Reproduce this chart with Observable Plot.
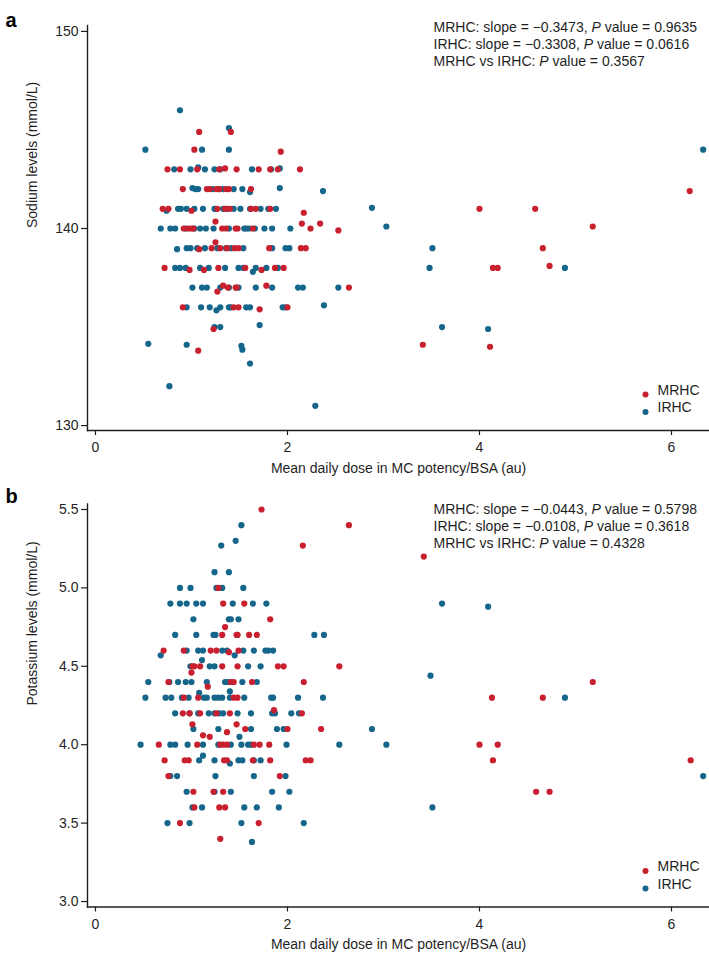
<!DOCTYPE html>
<html>
<head>
<meta charset="utf-8">
<script src="https://cdn.jsdelivr.net/npm/d3@7"></script>
<script src="https://cdn.jsdelivr.net/npm/@observablehq/plot@0.6"></script>
<style>
  body { margin: 0; background: #fff; }
  #chart { width: 709px; }
  #chart svg { display: block; }
</style>
</head>
<body>
<div id="chart"></div>
<script>
// Groups and colours
const groups = ["MRHC", "IRHC"];
const groupColors = ["#c8202e", "#15668a"];

// Shared x axis
const doseTicks = [0, 2, 4, 6];
const doseTitle = "Mean daily dose in MC potency/BSA (au)";

// Panel a: sodium, [dose, level]
const sodiumMRHC = [
  [1.08,144.9],[1.41,144.9],
  [1.03,144],[1.93,143.9],
  [0.75,143],[0.88,143],[1.06,143],[1.29,143],[1.35,143.05],[1.47,143],[1.70,143],[1.82,143],[1.90,143],[2.13,143],
  [0.91,142],[1.16,142],[1.19,142],[1.26,142],[1.29,142],[1.36,142],[1.39,142],[1.62,142],[6.19,141.9],
  [0.70,141],[0.76,141],[1.00,140.9],[1.27,141],[1.35,141],[1.40,141],[1.62,141],[1.67,141],[1.82,141],[2.17,140.8],[4.00,141],[4.58,141],
  [0.92,140],[0.97,140],[1.00,140],[1.02,140],[1.25,140.35],[1.32,140],[1.36,140],[1.46,140],[1.48,140],[1.64,140],[2.15,140.25],[2.24,140],[2.34,140.25],[2.53,139.9],[5.18,140.1],
  [1.08,138.95],[1.21,139],[1.25,139.3],[1.30,139],[1.37,139],[1.45,139],[1.49,139],[1.81,139],[2.14,139],[2.19,139],[4.66,139],
  [0.72,138],[0.98,137.9],[1.13,137.9],[1.28,138],[1.56,138],[1.73,137.9],[1.87,138],[1.96,138],[4.14,138],[4.19,138],[4.73,138.1],
  [1.27,136.8],[1.33,137.1],[1.38,137],[1.46,137],[1.47,137],[1.78,137.1],[2.64,137],
  [0.91,136],[1.44,136],[1.49,136],[1.71,135.9],[2.00,136],
  [1.23,134.9],
  [1.07,133.8],[3.41,134.1],[4.11,134]
];
const sodiumIRHC = [
  [0.88,146],
  [1.39,145.1],
  [0.52,144],[1.11,144],[1.39,144],[6.33,144],
  [0.82,143],[0.99,143],[1.07,143.1],[1.14,143],[1.24,143],[1.30,143],[1.63,143],[1.83,143],[1.92,143.05],
  [1.01,142.05],[1.04,142],[1.07,142],[1.22,142],[1.29,142],[1.33,142],[1.44,142],[1.53,142],[1.61,141.85],[1.92,142.05],[2.37,141.9],
  [0.74,140.9],[0.86,141],[0.89,141],[0.95,141],[1.03,141],[1.12,141],[1.24,141],[1.25,141],[1.33,141],[1.37,141],[1.44,141],[1.51,141],[1.61,141],[1.72,141],[1.80,141],[1.88,141],[2.88,141.05],
  [0.68,140],[0.78,140],[0.83,140],[0.94,140],[1.03,140],[1.09,140],[1.15,140],[1.23,140],[1.39,140],[1.55,140],[1.57,140],[1.60,140],[1.66,140],[1.76,140],[1.84,140],[2.03,140],[3.03,140.1],
  [0.85,138.95],[0.95,139],[0.99,139],[1.06,139],[1.14,139],[1.27,139],[1.36,139],[1.41,139],[1.54,139],[1.84,139],[1.98,139],[2.02,139],[3.51,139],
  [0.83,138],[0.88,138],[0.94,138],[1.09,138],[1.18,138],[1.35,138],[1.49,138],[1.54,138],[1.64,137.8],[1.67,138],[1.78,138],[1.90,138],[3.48,138],[4.89,138],
  [1.01,137],[1.11,137],[1.16,137],[1.30,137],[1.39,137],[1.49,137],[1.67,137],[1.84,137],[2.11,137],[2.16,137],[2.53,137],
  [0.95,136],[1.10,136],[1.19,136],[1.26,135.85],[1.30,136],[1.39,136],[1.41,136],[1.57,136],[1.61,136],[1.95,136],[1.98,136],[2.38,136.1],
  [1.24,135],[1.30,135],[1.71,135.1],[3.61,135],[4.09,134.9],
  [0.55,134.15],[0.95,134.1],[1.52,134.05],[1.53,133.85],
  [1.61,133.15],
  [0.77,132],
  [2.29,131]
];
const sodiumTicks = [130, 140, 150];
const sodiumTitle = "Sodium levels (mmol/L)";
const sodiumNotes = [
  "MRHC: slope = \u22120.3473, P value = 0.9635",
  "IRHC: slope = \u22120.3308, P value = 0.0616",
  "MRHC vs IRHC: P value = 0.3567"
];

// Panel b: potassium, [dose, level]
const potassiumMRHC = [
  [1.73,5.5],[2.64,5.4],[2.16,5.27],[3.42,5.2],
  [1.28,5.0],
  [1.33,4.9],[1.55,4.9],
  [1.82,4.8],[1.35,4.75],
  [1.32,4.7],[1.47,4.7],[1.48,4.7],[1.60,4.7],[1.68,4.7],
  [0.71,4.6],[0.92,4.6],[1.20,4.6],[1.26,4.6],[1.39,4.59],[1.49,4.6],
  [1.01,4.5],[1.03,4.5],[1.09,4.5],[1.32,4.5],[1.48,4.5],[1.90,4.5],[1.96,4.5],[2.54,4.5],
  [1.00,4.46],
  [0.76,4.4],[1.41,4.4],[1.44,4.4],[1.63,4.4],[2.17,4.4],[5.18,4.4],
  [1.17,4.37],
  [0.92,4.3],[1.07,4.3],[1.44,4.3],[1.48,4.3],[4.13,4.3],[4.66,4.3],
  [0.91,4.2],[0.98,4.2],[1.09,4.2],[1.26,4.2],[1.40,4.2],[1.86,4.22],[2.15,4.2],
  [1.01,4.13],[1.47,4.13],
  [1.56,4.1],[2.00,4.1],[2.35,4.1],
  [1.37,4.08],[1.12,4.06],[1.19,4.05],
  [0.66,4.0],[1.06,4.0],[1.30,4.0],[1.33,4.0],[1.37,4.0],[1.65,4.0],[1.71,4.0],[1.81,4.0],[4.00,4.0],[4.19,4.0],
  [0.72,3.9],[0.93,3.9],[0.97,3.9],[1.34,3.9],[1.37,3.9],[1.64,3.9],[1.82,3.9],[2.19,3.9],[2.24,3.9],[4.14,3.9],[6.20,3.9],
  [0.76,3.8],[1.92,3.8],
  [1.02,3.7],[1.23,3.7],[1.33,3.7],[4.59,3.7],[4.73,3.7],
  [1.03,3.6],[1.29,3.6],[1.35,3.6],
  [0.88,3.5],[1.70,3.5],
  [1.30,3.4]
];
const potassiumIRHC = [
  [1.52,5.4],[1.46,5.3],[1.31,5.27],
  [1.24,5.1],[1.39,5.1],
  [0.88,5.0],[0.99,5.0],[1.26,5.0],[1.32,5.0],[1.54,5.0],
  [0.78,4.9],[0.88,4.9],[0.95,4.9],[1.05,4.9],[1.12,4.9],[1.43,4.9],[1.64,4.9],[1.78,4.9],[3.61,4.9],
  [4.09,4.88],
  [1.02,4.8],[1.39,4.8],[1.41,4.8],[1.49,4.8],
  [0.83,4.7],[1.05,4.7],[1.23,4.7],[1.25,4.7],[2.28,4.7],[2.38,4.7],
  [0.95,4.6],[1.07,4.6],[1.12,4.6],[1.32,4.6],[1.37,4.6],[1.54,4.6],[1.65,4.6],[1.77,4.6],[1.80,4.6],[1.85,4.6],
  [0.68,4.57],[1.45,4.57],[1.11,4.54],
  [0.99,4.5],[1.19,4.5],[1.24,4.5],[1.59,4.5],[1.72,4.5],
  [3.49,4.44],
  [0.55,4.4],[0.77,4.4],[0.86,4.4],[0.94,4.4],[1.00,4.4],[1.16,4.4],[1.35,4.4],[1.38,4.4],[1.53,4.4],[1.68,4.4],
  [1.40,4.34],[1.08,4.33],
  [0.52,4.3],[0.73,4.3],[0.79,4.3],[0.90,4.3],[0.97,4.3],[1.13,4.3],[1.16,4.3],[1.24,4.3],[1.28,4.3],[1.32,4.3],[1.40,4.3],[1.55,4.3],[1.83,4.3],[1.85,4.3],[2.11,4.3],[2.37,4.3],[4.89,4.3],
  [0.83,4.2],[0.98,4.2],[1.07,4.2],[1.18,4.2],[1.24,4.2],[1.29,4.2],[1.33,4.2],[1.48,4.2],[1.62,4.2],[1.84,4.2],[1.87,4.2],[2.04,4.2],[2.12,4.2],
  [1.02,4.1],[1.28,4.1],[1.62,4.1],[1.89,4.1],[1.96,4.1],[2.88,4.1],
  [1.50,4.05],
  [0.47,4.0],[0.78,4.0],[0.83,4.0],[0.96,4.0],[1.12,4.0],[1.28,4.0],[1.41,4.0],[1.52,4.0],[1.59,4.0],[1.62,4.0],[1.99,4.0],[2.54,4.0],[3.03,4.0],
  [1.12,3.93],
  [1.08,3.9],[1.24,3.9],[1.49,3.9],[1.53,3.9],[1.65,3.9],[1.72,3.9],
  [1.40,3.88],
  [0.78,3.8],[0.85,3.8],[1.25,3.8],[1.65,3.8],[1.98,3.8],[6.33,3.8],
  [0.95,3.7],[1.24,3.7],[1.41,3.7],[1.84,3.7],[2.02,3.7],
  [1.01,3.6],[1.11,3.6],[1.55,3.6],[1.68,3.6],[1.91,3.6],[3.51,3.6],
  [0.75,3.5],[0.98,3.5],[1.52,3.5],[2.17,3.5],
  [1.63,3.38]
];
const potassiumTicks = [3.0, 3.5, 4.0, 4.5, 5.0, 5.5];
const potassiumTitle = "Potassium levels (mmol/L)";
const potassiumNotes = [
  "MRHC: slope = \u22120.0443, P value = 0.5798",
  "IRHC: slope = \u22120.0108, P value = 0.3618",
  "MRHC vs IRHC: P value = 0.4328"
];

const FONT = "'Liberation Sans', Arial, Helvetica, sans-serif";
const INK = "#1f1f1f";

function rows(pairs, group) {
  return pairs.map(([dose, level]) => ({dose, level, group}));
}

function panel(o) {
  const data = [...rows(o.irhc, "IRHC"), ...rows(o.mrhc, "MRHC")];
  const noteMarks = o.notes.map((t, i) =>
    Plot.text([t], {frameAnchor: "top-left", dx: 346, dy: o.noteDy + i * 17, text: d => d,
      textAnchor: "start", fill: INK, fontSize: 14}));
  const legendMarks = groups.flatMap((g, i) => [
    Plot.dot([g], {frameAnchor: "bottom-left", dx: 558, dy: -36 + i * 17.5, r: 3, fill: groupColors[i]}),
    Plot.text([g], {frameAnchor: "bottom-left", dx: 570, dy: -36 + i * 17.5, text: d => d,
      textAnchor: "start", fill: INK, fontSize: 14})
  ]);
  const svg = Plot.plot({
    width: 709,
    height: o.height,
    marginLeft: 87,
    marginRight: 0,
    marginTop: o.marginTop,
    marginBottom: o.marginBottom,
    style: {fontFamily: FONT, fontSize: "14px", color: INK, background: "#fff"},
    x: {domain: [-0.083, 6.396]},
    y: {domain: o.yDomain},
    color: {domain: groups, range: groupColors},
    marks: [
      Plot.axisX({ticks: doseTicks, tickSize: 5, tickPadding: 7, tickFormat: d => String(d),
        label: null, stroke: INK, strokeWidth: 1.2, fontSize: 14}),
      Plot.axisY({ticks: o.yTicks, tickSize: 6, tickPadding: 3, tickFormat: o.yFormat,
        label: null, stroke: INK, strokeWidth: 1.2, fontSize: 14}),
      Plot.frame({anchor: "left", stroke: INK, strokeWidth: 1.4}),
      Plot.frame({anchor: "bottom", stroke: INK, strokeWidth: 1.4}),
      Plot.dot(data, {x: "dose", y: "level", fill: "group", r: 3.1}),
      Plot.text([doseTitle], {frameAnchor: "bottom", dy: 42, text: d => d, fill: INK, fontSize: 14}),
      Plot.text([o.yTitle], {frameAnchor: "left", dx: -55, rotate: -90, text: d => d, fill: INK, fontSize: 14}),
      Plot.text([o.letter], {frameAnchor: "top-left", dx: -82, dy: o.letterDy, text: d => d,
        textAnchor: "start", fontWeight: "bold", fontSize: 20, fill: "#000"}),
      ...noteMarks,
      ...legendMarks
    ]
  });
  // italic P in the statistics lines
  svg.querySelectorAll("text").forEach(t => {
    const s = t.textContent;
    const k = s.lastIndexOf("P value");
    if (k < 0 || t.querySelector("tspan")) return;
    t.textContent = "";
    const sel = d3.select(t);
    sel.append("tspan").text(s.slice(0, k));
    sel.append("tspan").attr("font-style", "italic").text("P");
    sel.append("tspan").text(s.slice(k + 1));
  });
  return svg;
}

const chart = document.getElementById("chart");
chart.append(panel({
  mrhc: sodiumMRHC, irhc: sodiumIRHC,
  yDomain: [129.75, 150.3], yTicks: sodiumTicks, yFormat: d => String(d),
  yTitle: sodiumTitle, notes: sodiumNotes, letter: "a",
  height: 480, marginTop: 25, marginBottom: 50, letterDy: -13, noteDy: -3
}));
chart.append(panel({
  mrhc: potassiumMRHC, irhc: potassiumIRHC,
  yDomain: [2.965, 5.535], yTicks: potassiumTicks, yFormat: d3.format(".1f"),
  yTitle: potassiumTitle, notes: potassiumNotes, letter: "b",
  height: 478, marginTop: 23.5, marginBottom: 51.5, letterDy: -15.5, noteDy: 0.5
}));
</script>
</body>
</html>
